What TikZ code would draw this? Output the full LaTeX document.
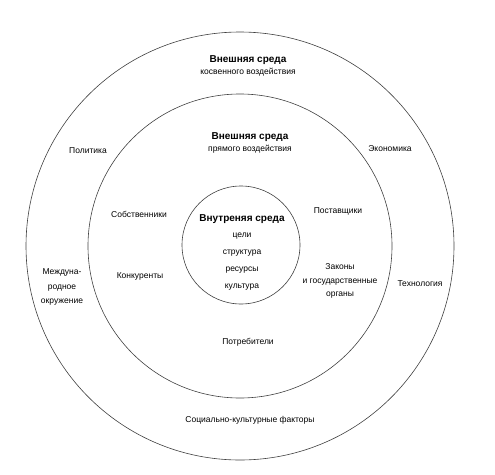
\documentclass[tikz,border=0pt]{standalone}
\usepackage{fontspec}
\setmainfont{Liberation Sans}
\usetikzlibrary{positioning}
\tikzset{
  ring/.style   = {draw=black!75, circle, line width=0.6pt, inner sep=0pt},
  title/.style  = {align=center, font=\fontsize{10}{11}\selectfont\bfseries, inner sep=1pt},
  factor/.style = {align=center, font=\fontsize{8.5}{14.5}\selectfont, inner sep=1pt},
}
\begin{document}
\begin{tikzpicture}[x=1pt, y=-1pt]
  \useasboundingbox (0,0) rectangle (495,474);
  % rings
  \node[ring, minimum size=428pt] (outer) at (240,246) {};
  \node[ring, minimum size=304pt] (middle) at (240,246) {};
  \node[ring, minimum size=118pt] (inner) at (241,245) {};

  % outer ring
  \node[title]  (outT)  at (248,60) {Внешняя среда};
  \node[factor, below=1pt of outT] (outS) {косвенного воздействия};
  \node[factor] (pol)  at (88,151)  {Политика};
  \node[factor] (eco)  at (390,149) {Экономика};
  \node[factor] (mezh) at (62,287)  {Междуна-\\родное\\окружение};
  \node[factor] (tech) at (420,284) {Технология};
  \node[factor] (soc)  at (250,420) {Социально-культурные факторы};

  % middle ring
  \node[title]  (midT) at (250,137) {Внешняя среда};
  \node[factor, below=1pt of midT] (midS) {прямого воздействия};
  \node[factor] (sobst) at (139,214) {Собственники};
  \node[factor] (konk)  at (140,276) {Конкуренты};
  \node[factor] (post)  at (338,211) {Поставщики};
  \node[factor, font=\fontsize{8.5}{13.5}\selectfont] (zak) at (340,281) {Законы\\и государственные\\органы};
  \node[factor] (potr)  at (248,342) {Потребители};

  % inner circle
  \node[title]  (inT) at (242,219) {Внутреняя среда};
  \node[factor, font=\fontsize{8.5}{17}\selectfont] (inL) at (242,262) {цели\\структура\\ресурсы\\культура};
\end{tikzpicture}
\end{document}
